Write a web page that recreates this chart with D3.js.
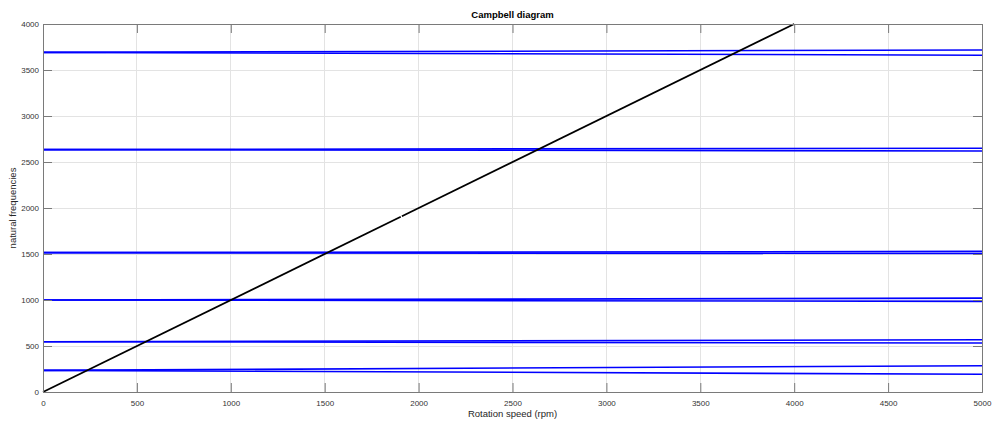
<!DOCTYPE html>
<html><head><meta charset="utf-8">
<script src="https://cdn.jsdelivr.net/npm/d3@7"></script>
<style>body{margin:0;background:#fff;}svg{display:block;font-family:Arial,"Liberation Sans",sans-serif;}</style>
</head><body><svg id="c" width="992" height="421"></svg>
<script>
const speeds = [0, 5000];
const forwardModes = [[235, 286], [547, 568], [1000, 1020], [1515, 1528], [2635, 2650], [3692, 3717]];
const backwardModes = [[235, 193], [547, 532], [1000, 985], [1515, 1505], [2635, 2620], [3692, 3661]];
const orderLine1 = [[0, 0], [1905, 1905]];
const orderLine2 = [[1911, 1911], [4000, 4000]];
const xTicks = [0, 500, 1000, 1500, 2000, 2500, 3000, 3500, 4000, 4500, 5000];
const yTicks = [0, 500, 1000, 1500, 2000, 2500, 3000, 3500, 4000];

const svg = d3.select("#c");
const L = 43, R = 982, T = 24, B = 392;
const x = d3.scaleLinear().domain([0, 5000]).range([L, R]);
const y = d3.scaleLinear().domain([0, 4000]).range([B, T]);

// grid
svg.append("g").selectAll("line").data(xTicks).join("line")
  .attr("x1", d => x(d)).attr("x2", d => x(d)).attr("y1", T).attr("y2", B)
  .attr("stroke", "#e3e3e3").attr("stroke-width", 1).attr("shape-rendering", "crispEdges");
svg.append("g").selectAll("line").data(yTicks).join("line")
  .attr("y1", d => y(d)).attr("y2", d => y(d)).attr("x1", L).attr("x2", R)
  .attr("stroke", "#e3e3e3").attr("stroke-width", 1).attr("shape-rendering", "crispEdges");

const line = d3.line().x(d => x(d[0])).y(d => y(d[1]));
const g = svg.append("g");
forwardModes.concat(backwardModes).forEach(m => {
  g.append("path").datum(speeds.map((s, i) => [s, m[i]])).attr("d", line)
    .attr("fill", "none").attr("stroke", "#0000ff").attr("stroke-width", 1.6);
});
[orderLine1, orderLine2].forEach(seg => {
  g.append("path").datum(seg).attr("d", line)
    .attr("fill", "none").attr("stroke", "#000").attr("stroke-width", 1.8);
});

// axes
const tickLen = 9;
const axisColor = "#7a7a7a";
const xAxis = d3.axisBottom(x).tickValues(xTicks).tickSize(-tickLen).tickPadding(8).tickFormat(d3.format("d"));
const yAxis = d3.axisLeft(y).tickValues(yTicks).tickSize(-tickLen).tickPadding(4).tickFormat(d3.format("d"));
const xTop = d3.axisTop(x).tickValues(xTicks).tickSize(-tickLen).tickFormat("");
const yRight = d3.axisRight(y).tickValues(yTicks).tickSize(-tickLen).tickFormat("");
function style(sel) {
  sel.selectAll("path").attr("stroke", axisColor);
  sel.selectAll("line").attr("stroke", axisColor);
  sel.selectAll("text").attr("fill", "#333").style("font-size", "8px").style("font-family", "Arial, 'Liberation Sans', sans-serif");
}
svg.append("g").attr("transform", `translate(0,${B})`).call(xAxis).call(style);
svg.append("g").attr("transform", `translate(${L},0)`).call(yAxis).call(style);
svg.append("g").attr("transform", `translate(0,${T})`).call(xTop).call(style);
svg.append("g").attr("transform", `translate(${R},0)`).call(yRight).call(style);

svg.append("text").attr("x", (L + R) / 2).attr("y", 18).attr("text-anchor", "middle")
  .style("font-size", "9.5px").style("font-weight", "bold").attr("fill", "#000").text("Campbell diagram");
svg.append("text").attr("x", (L + R) / 2).attr("y", 417).attr("text-anchor", "middle")
  .style("font-size", "9.5px").attr("fill", "#262626").text("Rotation speed (rpm)");
svg.append("text").attr("transform", `translate(16,${(T + B) / 2}) rotate(-90)`).attr("text-anchor", "middle")
  .style("font-size", "9.5px").attr("fill", "#262626").text("natural frequencies");
</script></body></html>
